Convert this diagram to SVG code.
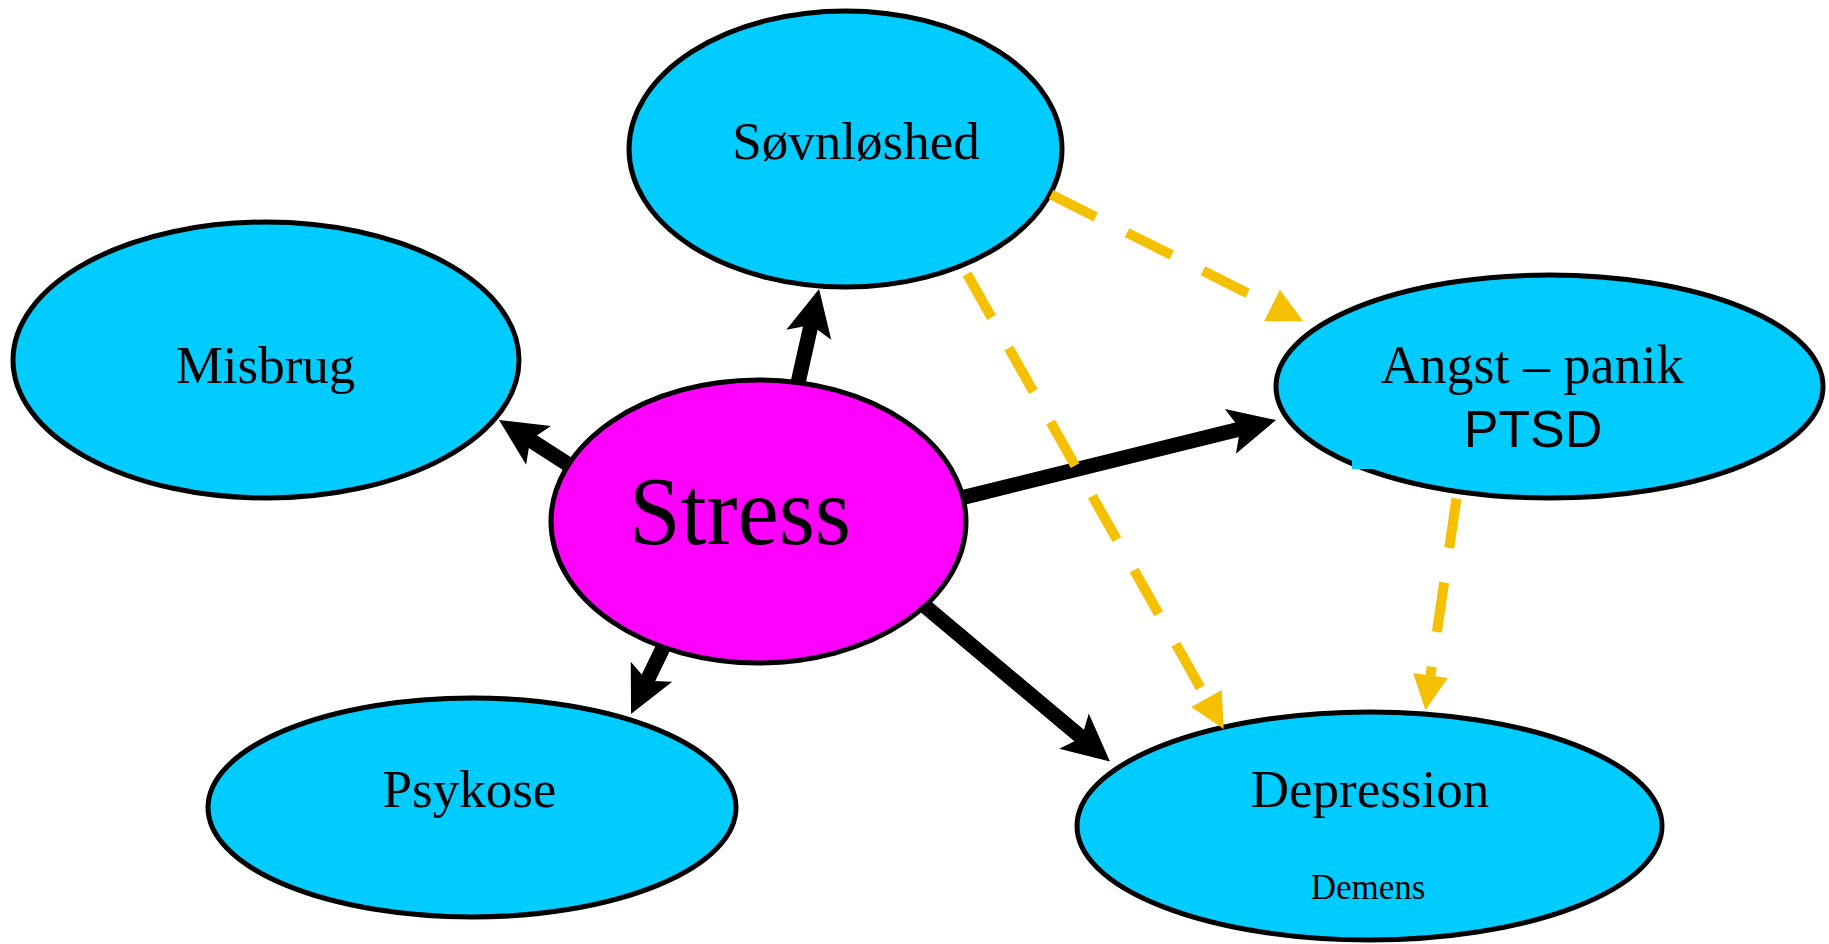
<svg xmlns="http://www.w3.org/2000/svg" width="1829" height="944" viewBox="0 0 1829 944">
<style>
.node{fill:#00CCFF;stroke:#000;stroke-width:5}
.center{fill:#FF00FF;stroke:#000;stroke-width:5}
.lbl{font-family:"Liberation Serif","Times New Roman",serif;fill:#000;text-anchor:middle}
.sans{font-family:"Liberation Sans",Arial,sans-serif;fill:#000;text-anchor:middle}
.solid{fill:none;stroke:#000;stroke-width:15;stroke-linecap:butt;marker-end:url(#blackHead)}
.dash{fill:none;stroke:#F5C000;stroke-width:10;stroke-dasharray:50 35;stroke-linecap:butt;marker-end:url(#yellowHead)}
</style>
<defs>
<marker id="blackHead" markerUnits="userSpaceOnUse" orient="auto" refX="0" refY="0" markerWidth="60" markerHeight="60" overflow="visible">
<path d="M36,0 L-11,-23 L-1,0 L-11,23 Z" fill="#000"/>
</marker>
<marker id="yellowHead" markerUnits="userSpaceOnUse" orient="auto" refX="0" refY="0" markerWidth="50" markerHeight="50" overflow="visible">
<path d="M35,0 L0,-17.5 L0,17.5 Z" fill="#F5C000"/>
</marker>
</defs>
<rect width="1829" height="944" fill="#fff"/>
<g id="node-sovnloshed">
<ellipse class="node" cx="845.5" cy="149" rx="216.5" ry="138"/>
<text class="lbl" x="856" y="159" font-size="53">Søvnløshed</text>
</g>
<g id="node-misbrug">
<ellipse class="node" cx="266" cy="360" rx="253" ry="138"/>
<text class="lbl" x="265.5" y="383" font-size="53">Misbrug</text>
</g>
<g id="node-angst">
<ellipse class="node" cx="1549.5" cy="386.5" rx="273.5" ry="111.5"/>
<rect x="1352" y="460" width="23" height="9" fill="#00CCFF"/>
<text class="lbl" x="1532" y="383" font-size="54">Angst – panik</text>
<text class="sans" x="1533" y="447" font-size="52">PTSD</text>
</g>
<g id="node-psykose">
<ellipse class="node" cx="472" cy="807.5" rx="264" ry="109.5"/>
<text class="lbl" x="469.5" y="807" font-size="53">Psykose</text>
</g>
<g id="node-depression">
<ellipse class="node" cx="1369.5" cy="826" rx="292.5" ry="114"/>
<text class="lbl" x="1370" y="807" font-size="53">Depression</text>
<text class="lbl" x="1368" y="899" font-size="35">Demens</text>
</g>
<g id="connectors">
<path class="solid" d="M796,392 L811.2,324.1"/>
<path class="solid" d="M578.6,471.1 L529.3,439.4"/>
<path class="solid" d="M950.4,500.6 L1241.1,428.7"/>
<path class="solid" d="M668.5,636.5 L646.7,681.6"/>
<path class="solid" d="M913.5,596.4 L1082.4,738.3"/>
<path class="dash" d="M1051,194.5 L1272,305.5"/>
<path class="dash" d="M967,274 L1206.5,698.5"/>
<path class="dash" d="M1456.5,498.5 L1430.5,675.5"/>
</g>
<g id="node-stress">
<ellipse class="center" cx="758.5" cy="521.5" rx="207.5" ry="141.5"/>
<text class="lbl" x="740" y="544" font-size="98" textLength="222" lengthAdjust="spacingAndGlyphs">Stress</text>
</g>
</svg>
